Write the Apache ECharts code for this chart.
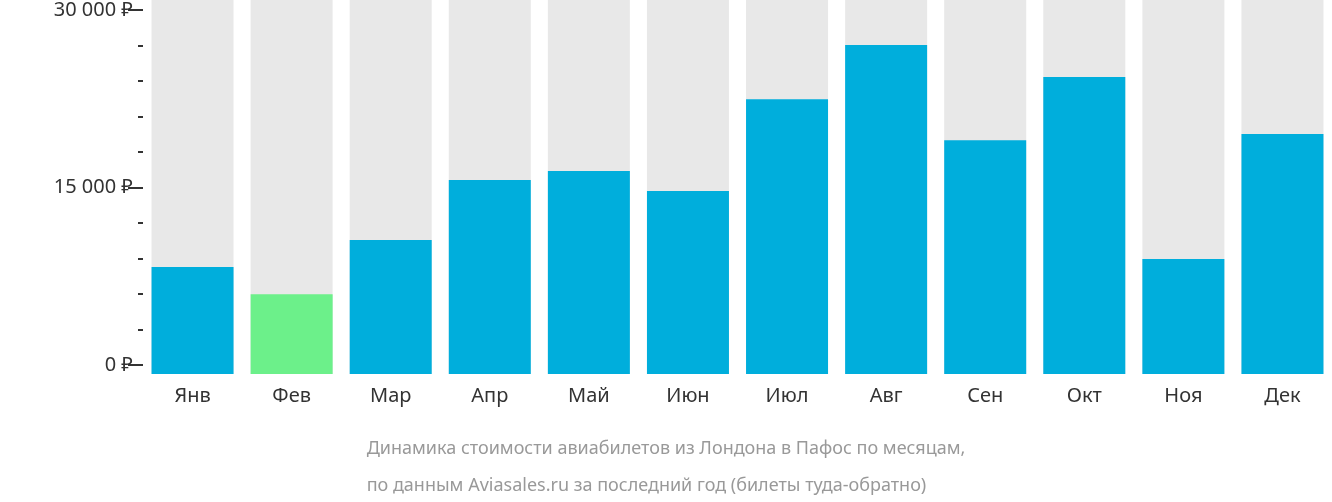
<!DOCTYPE html>
<html><head><meta charset="utf-8">
<script src="https://cdn.jsdelivr.net/npm/echarts@6/dist/echarts.min.js"></script>
<style>html,body{margin:0;padding:0;background:#fff}#c{width:1332px;height:502px}</style>
</head><body><div id="c"></div>
<script>
const months = ['Янв','Фев','Мар','Апр','Май','Июн','Июл','Авг','Сен','Окт','Ноя','Дек'];
const prices = [9000, 6700, 11260, 16300, 17060, 15380, 23100, 27650, 19660, 24960, 9660, 20170];
const cheapestIndex = 1;
const tickValues = [0, 15000, 30000];
const bgMax = 31440;
const blue = '#00AEDC', green = '#6CF08A', grey = '#E8E8E8';

const chart = echarts.init(document.getElementById('c'));
chart.setOption({
  animation: false,
  graphic: [{
    type: 'text', left: 'center', top: 430,
    style: { text: 'Динамика стоимости авиабилетов из Лондона в Пафос по месяцам,\nпо данным Aviasales.ru за последний год (билеты туда-обратно)',
      fill: '#999', font: '18px "Noto Sans"', lineHeight: 37, align: 'center' }
  }],
  grid: [
    { left: 143, width: 1200, top: 8, height: 357 },
    { left: 143, width: 1200, top: 0, height: 374 }
  ],
  xAxis: [
    { gridIndex: 0, type: 'category', data: months, show: false },
    { gridIndex: 1, type: 'category', data: months, axisLine: {show: false}, axisTick: {show: false},
      axisLabel: { color: '#333', fontSize: 20, fontFamily: 'Noto Sans', margin: 12 } }
  ],
  yAxis: [
    { gridIndex: 0, type: 'value', min: 0, max: 30000, interval: 15000,
      axisLine: {show: false}, splitLine: {show: false},
      axisTick: { show: true, length: 15, lineStyle: {color: '#333', width: 2} },
      minorTick: { show: true, splitNumber: 5, length: 5, lineStyle: {color: '#333', width: 2} },
      axisLabel: { color: '#333', fontSize: 20, fontFamily: 'Noto Sans', margin: 10,
        formatter: v => tickValues.includes(v) ? (v === 0 ? '0 ₽' : String(v).replace(/\B(?=(\d{3})+(?!\d))/g, ' ') + ' ₽') : '' } },
    { gridIndex: 1, type: 'value', min: 0, max: bgMax, show: false }
  ],
  series: [
    { type: 'bar', xAxisIndex: 1, yAxisIndex: 1, data: months.map(() => bgMax), barWidth: 82,
      itemStyle: {color: grey}, silent: true, barGap: '-100%' },
    { type: 'bar', xAxisIndex: 1, yAxisIndex: 1, barWidth: 82, barGap: '-100%',
      data: prices.map((v, i) => ({ value: v, itemStyle: { color: i === cheapestIndex ? green : blue } })) }
  ]
});
</script></body></html>
